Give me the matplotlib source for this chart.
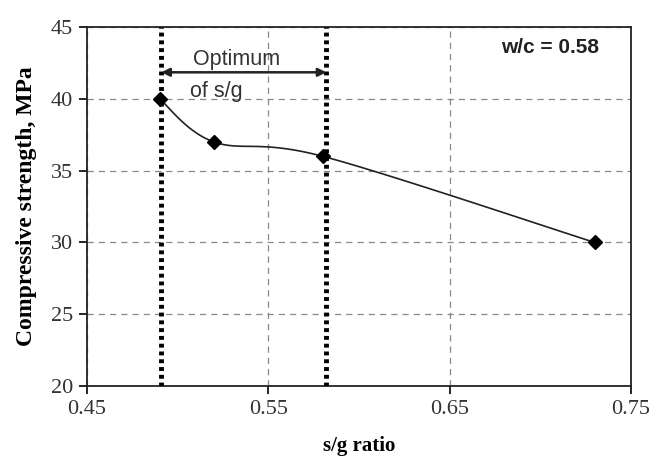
import numpy as np
import matplotlib
matplotlib.use("Agg")
import matplotlib.pyplot as plt

sg_ratio = [0.49, 0.52, 0.58, 0.73]
strength = [40, 37, 36, 30]
optimum_bounds = [0.491, 0.582]
x_ticks = [0.45, 0.55, 0.65, 0.75]
y_ticks = [20, 25, 30, 35, 40, 45]

def smooth(x, y, n=40, t=0.5):
    x = np.asarray(x, float); y = np.asarray(y, float)
    P = np.column_stack([x, y])
    pts = []
    for i in range(len(P) - 1):
        p0 = P[i - 1] if i > 0 else P[i]
        p1 = P[i]; p2 = P[i + 1]
        p3 = P[i + 2] if i + 2 < len(P) else P[i + 1]
        c1 = p1 + (p2 - p0) * t / 3
        c2 = p2 - (p3 - p1) * t / 3
        s = np.linspace(0, 1, n)[:, None]
        seg = (1 - s) ** 3 * p1 + 3 * (1 - s) ** 2 * s * c1 + 3 * (1 - s) * s ** 2 * c2 + s ** 3 * p2
        pts.append(seg)
    pts = np.vstack(pts)
    return pts[:, 0], pts[:, 1]

fig = plt.figure(figsize=(6.54, 4.59), dpi=100)
ax = fig.add_axes([87 / 654, 0.159, 544 / 654, 0.782])

ax.set_xlim(0.45, 0.75)
ax.set_ylim(20, 45)
ax.set_xticks(x_ticks)
ax.set_yticks(y_ticks)
ax.set_xticklabels([f"{v:.2f}" for v in x_ticks], family="Liberation Serif", fontsize=16, color="#333333")
ax.set_yticklabels([str(v) for v in y_ticks], family="Liberation Serif", fontsize=16, color="#333333")
ax.tick_params(direction="out", length=6, width=1.2, pad=4)

ax.grid(True, linestyle=(0, (5, 4)), color="#888888", linewidth=0.9)
ax.set_axisbelow(True)
for s in ax.spines.values():
    s.set_linewidth(1.3)
    s.set_color("#222222")

for xv in optimum_bounds:
    ax.axvline(xv, color="black", linewidth=3.5, linestyle=(0, (0.8, 0.8)), zorder=3)

xs, ys = smooth(sg_ratio, strength)
ax.plot(xs, ys, color="#222222", linewidth=1.2, zorder=4)
ax.plot(sg_ratio, strength, linestyle="none", marker="D", markersize=7, color="black", zorder=5)

ax.annotate("", xy=(optimum_bounds[0], 41.85), xytext=(optimum_bounds[1], 41.85),
            arrowprops=dict(arrowstyle="<|-|>", color="#222222", lw=1.8, mutation_scale=12,
                            shrinkA=0, shrinkB=0), zorder=6)
ax.text(0.5325, 42.75, "Optimum", family="Liberation Sans", fontsize=15.5, color="#333333",
        ha="center", va="center")
ax.text(0.5215, 40.5, "of s/g", family="Liberation Sans", fontsize=15.5, color="#333333",
        ha="center", va="center")
ax.text(0.7055, 43.6, "w/c = 0.58", family="Liberation Sans", fontsize=15, fontweight="bold",
        color="#222222", ha="center", va="center")

ax.set_xlabel("s/g ratio", family="Liberation Serif", fontsize=15, fontweight="bold", labelpad=12)
ax.set_ylabel("Compressive strength, MPa", family="Liberation Serif", fontsize=17,
              fontweight="bold", labelpad=10)

fig.savefig("out.png", dpi=100)
